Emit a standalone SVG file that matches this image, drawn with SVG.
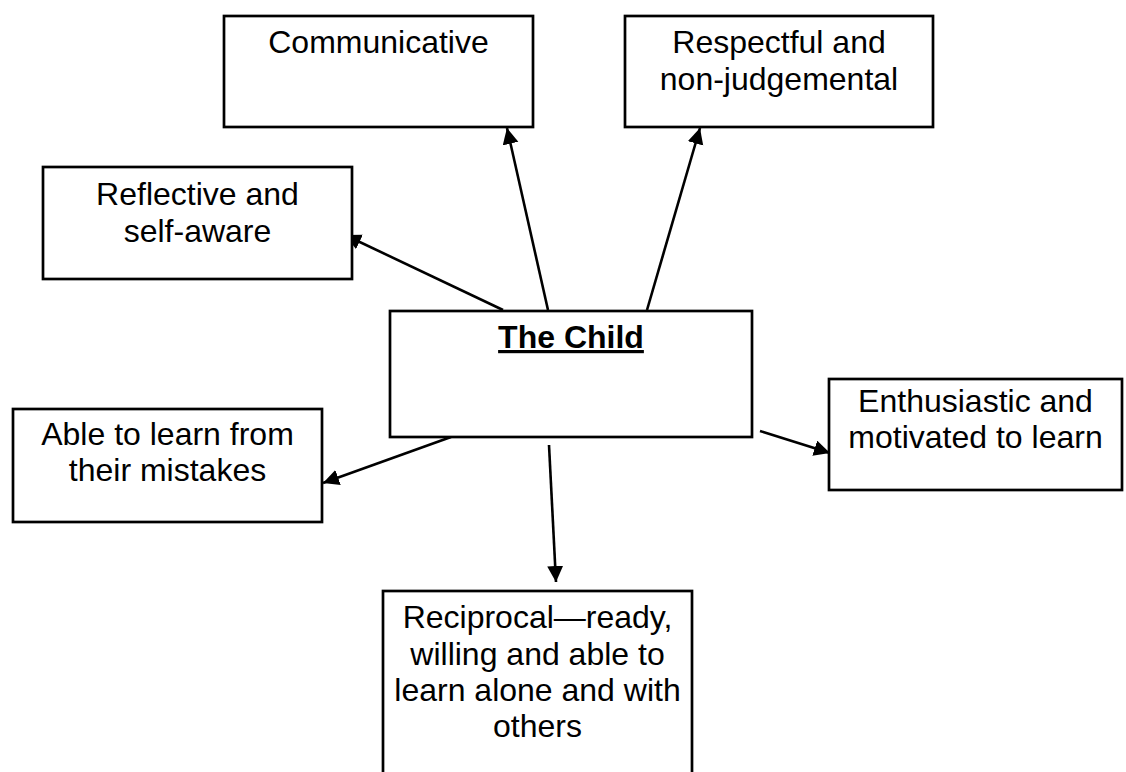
<svg xmlns="http://www.w3.org/2000/svg" width="1126" height="772" viewBox="0 0 1126 772">
<style>
.box{fill:#fff;stroke:#000;stroke-width:2.7}
.t{font-family:"Liberation Sans",Arial,sans-serif;font-size:32px;fill:#000;text-anchor:middle}
.b{font-weight:bold;text-decoration:underline}
.c{stroke:#000;stroke-width:2.6;fill:none;marker-end:url(#ah)}
</style>
<defs>
<marker id="ah" markerUnits="userSpaceOnUse" markerWidth="18" markerHeight="18" refX="16" refY="8" orient="auto">
<path d="M0,0 L16,8 L0,16 z" fill="#000"/>
</marker>
</defs>
<rect width="1126" height="772" fill="#fff"/>
<g id="connectors">
<line class="c" x1="503" y1="310" x2="345" y2="235"/>
<line class="c" x1="548" y1="310" x2="507" y2="128"/>
<line class="c" x1="647" y1="310" x2="700" y2="128"/>
<line class="c" x1="451" y1="437" x2="323" y2="483"/>
<line class="c" x1="760" y1="431" x2="830" y2="453"/>
<line class="c" x1="549" y1="445" x2="556" y2="582"/>
</g>
<g id="communicative">
<rect class="box" x="224" y="16" width="309" height="111"/>
<text class="t" x="378.5" y="53">Communicative</text>
</g>
<g id="respectful">
<rect class="box" x="625" y="16" width="308" height="111"/>
<text class="t" x="779" y="53">Respectful and</text>
<text class="t" x="779" y="90">non-judgemental</text>
</g>
<g id="reflective">
<rect class="box" x="43" y="167" width="309" height="112"/>
<text class="t" x="197.5" y="205">Reflective and</text>
<text class="t" x="197.5" y="242">self-aware</text>
</g>
<g id="child">
<rect class="box" x="390" y="311" width="362" height="126"/>
<text class="t b" x="571" y="348">The Child</text>
</g>
<g id="able">
<rect class="box" x="13" y="409" width="309" height="113"/>
<text class="t" x="167.5" y="445">Able to learn from</text>
<text class="t" x="167.5" y="481">their mistakes</text>
</g>
<g id="enthusiastic">
<rect class="box" x="829" y="379" width="293" height="111"/>
<text class="t" x="975.5" y="412">Enthusiastic and</text>
<text class="t" x="975.5" y="448">motivated to learn</text>
</g>
<g id="reciprocal">
<rect class="box" x="383" y="591" width="309" height="220"/>
<text class="t" x="537.5" y="628">Reciprocal—ready,</text>
<text class="t" x="537.5" y="665">willing and able to</text>
<text class="t" x="537.5" y="701">learn alone and with</text>
<text class="t" x="537.5" y="737">others</text>
</g>
</svg>
